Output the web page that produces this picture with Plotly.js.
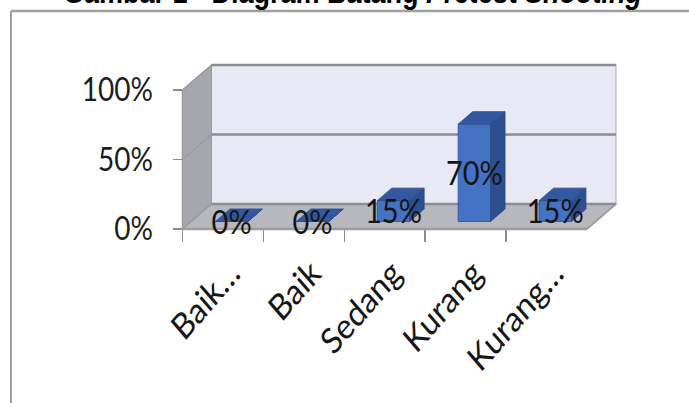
<!DOCTYPE html>
<html><head><meta charset="utf-8">
<script src="https://cdn.plot.ly/plotly-3.0.1.min.js"></script>
<style>
html,body{margin:0;padding:0;background:#fff;overflow:hidden;}
#wrap{width:689px;height:403px;overflow:hidden;position:relative;}
#chart{width:689px;height:350px;transform:scaleY(1.1514286);transform-origin:0 0;}
</style></head><body>
<div id="wrap"><div id="chart"></div></div>
<script>
// ---- data ----
const categories = ['Baik\u2026', 'Baik', 'Sedang', 'Kurang', 'Kurang\u2026'];
const values = [0, 0, 0.15, 0.70, 0.15];
const tickValues = [0, 0.5, 1];
const tickLabels = ['0%', '50%', '100%'];
const titleText = '<b>Gambar 1 - Diagram Batang <i>Pretest Shooting</i></b>';

// ---- geometry constants (reference pixels) ----
const W = 689, H_REF = 403, H_PLOT = 350, K = H_REF / H_PLOT;
const FRONT_L = 182.5, CAT_W = 80.9, Y0 = 229, UNIT = 139;
const DEPTH_X = 29, DEPTH_Y = 25;
const DX = DEPTH_X / CAT_W, DY = DEPTH_Y / UNIT;
const BAR_W = 0.4, BAR_F = 0.3, BAR_D = 0.5;
const LABEL_SHIFT = -4 / UNIT;
const FONT = 'Lato, "Open Sans", sans-serif';

const n = categories.length;
const idx = categories.map((_, i) => i);
const L = -0.5, R = n - 0.5;

const px = p => p / W;
const py = r => 1 - r / H_REF;
const poly = pts => 'M' + pts.map(p => p[0] + ',' + p[1]).join('L') + 'Z';
const seg = (a, b) => 'M' + a[0] + ',' + a[1] + 'L' + b[0] + ',' + b[1];

// ---- walls, floor, gridlines (shapes below traces) ----
const shapes = [];
const GS = {xref: 'x2', yref: 'y2', layer: 'below', type: 'path'};
shapes.push(Object.assign({}, GS, {path: poly([[L + DX, DY], [R + DX, DY], [R + DX, 1 + DY], [L + DX, 1 + DY]]),
  fillcolor: '#e8e9f5', line: {color: '#a9a9ae', width: 1}}));
shapes.push(Object.assign({}, GS, {path: poly([[L, 0], [L, 1], [L + DX, 1 + DY], [L + DX, DY]]),
  fillcolor: '#a6a7ad', line: {color: '#9a9aa0', width: 1}}));
shapes.push(Object.assign({}, GS, {path: poly([[L, 0], [R, 0], [R + DX, DY], [L + DX, DY]]),
  fillcolor: '#b6b8bd', line: {color: '#a3a4a8', width: 1}}));
tickValues.forEach(v => {
  shapes.push(Object.assign({}, GS, {path: seg([L + DX, v + DY], [R + DX, v + DY]), line: {color: '#8d8d8f', width: 2}}));
  shapes.push(Object.assign({}, GS, {path: seg([L, v], [L + DX, v + DY]), line: {color: '#98989e', width: 1}}));
});
shapes.push(Object.assign({}, GS, {path: seg([L, 0], [R, 0]), line: {color: '#9c9c9c', width: 2}}));
shapes.push(Object.assign({}, GS, {path: seg([L, 0], [L, 1]), line: {color: '#9c9c9c', width: 1.5}}));
shapes.push(Object.assign({}, GS, {path: seg([R, 0], [R + DX, DY]), line: {color: '#9c9c9c', width: 1.5}}));
// page box border
shapes.push({type: 'line', xref: 'paper', yref: 'paper', x0: px(11), x1: px(11), y0: -0.05, y1: py(11), line: {color: '#a0a0a0', width: 2}});
shapes.push({type: 'line', xref: 'paper', yref: 'paper', x0: px(11), x1: 1.05, y0: py(11), y1: py(11), line: {color: '#a0a0a0', width: 2}});

// ---- bars ----
const bx0 = idx.map(i => i + BAR_F * DX - BAR_W / 2);
const bx1 = bx0.map(x => x + BAR_W);
const yb = BAR_F * DY;
const bdx = BAR_D * DX, bdy = BAR_D * DY;
const sideX = [], sideY = [], topX = [], topY = [];
idx.forEach(i => {
  const yt = yb + values[i];
  sideX.push(bx1[i], bx1[i], bx1[i] + bdx, bx1[i] + bdx, bx1[i], null);
  sideY.push(yb, yt, yt + bdy, yb + bdy, yb, null);
  topX.push(bx0[i], bx1[i], bx1[i] + bdx, bx0[i] + bdx, bx0[i], null);
  topY.push(yt, yt, yt + bdy, yt + bdy, yt, null);
});

const traces = [
  // invisible carrier trace so the front (category) axes get drawn
  {type: 'scatter', mode: 'markers', xaxis: 'x', yaxis: 'y', x: categories, y: values,
   marker: {opacity: 0, size: 1}, hoverinfo: 'skip'},
  {type: 'bar', xaxis: 'x2', yaxis: 'y2', x: idx.map(i => i + BAR_F * DX), y: values, base: yb, width: BAR_W,
   marker: {color: '#4472c4', line: {color: '#30569a', width: 0.8}}, hoverinfo: 'skip'},
  {type: 'scatter', mode: 'lines', xaxis: 'x2', yaxis: 'y2', x: sideX, y: sideY, fill: 'toself',
   fillcolor: '#2d4f8f', line: {color: '#2a4a86', width: 0.8}, hoverinfo: 'skip'},
  {type: 'scatter', mode: 'lines', xaxis: 'x2', yaxis: 'y2', x: topX, y: topY, fill: 'toself',
   fillcolor: '#3358a0', line: {color: '#2c4d8c', width: 0.8}, hoverinfo: 'skip'},
  {type: 'scatter', mode: 'text', xaxis: 'x2', yaxis: 'y2', x: idx.map(i => i + BAR_F * DX),
   y: values.map(v => yb + v / 2 + LABEL_SHIFT), text: values.map(v => Math.round(v * 100) + '%'),
   textposition: 'middle center', textfont: {family: FONT, size: 29, color: '#141414'}, cliponaxis: false, hoverinfo: 'skip'}
];

const layout = {
  width: W, height: H_PLOT,
  margin: {l: 0, r: 0, t: 0, b: 0, pad: 0},
  paper_bgcolor: '#ffffff', plot_bgcolor: 'rgba(0,0,0,0)',
  showlegend: false, hovermode: false,
  font: {family: FONT, color: '#222222'},
  xaxis: {domain: [px(FRONT_L), px(FRONT_L + n * CAT_W)], range: [L, R], anchor: 'y',
    type: 'category', categoryorder: 'array', categoryarray: categories, tickson: 'boundaries',
    ticks: 'outside', ticklen: 12 / K, tickwidth: 1.5, tickcolor: '#8c8c8c', tickangle: -45,
    ticklabelstandoff: 13, ticklabelshift: 8,
    tickfont: {family: FONT, size: 31, color: '#161616'},
    showgrid: false, zeroline: false, showline: false, fixedrange: true},
  yaxis: {domain: [py(Y0), py(Y0 - UNIT)], range: [0, 1], anchor: 'x',
    tickmode: 'array', tickvals: tickValues, ticktext: tickLabels,
    ticks: 'outside', ticklen: 9, tickwidth: 1.5, tickcolor: '#8c8c8c', ticklabelstandoff: 14,
    tickfont: {family: FONT, size: 28, color: '#1c1c1c'},
    showgrid: false, zeroline: false, showline: false, fixedrange: true},
  xaxis2: {domain: [0, 1], range: [L - FRONT_L / CAT_W, L + (W - FRONT_L) / CAT_W], anchor: 'y2', visible: false, fixedrange: true},
  yaxis2: {domain: [0, 1], range: [(Y0 - H_REF) / UNIT, Y0 / UNIT], anchor: 'x2', visible: false, fixedrange: true},
  shapes: shapes,
  annotations: [{xref: 'paper', yref: 'paper', x: px(353), y: py(13), xanchor: 'center', yanchor: 'bottom',
    text: titleText, showarrow: false, font: {family: '"Liberation Sans", Arial, sans-serif', size: 27, color: '#000000'}}]
};

Plotly.newPlot('chart', traces, layout, {staticPlot: true, displayModeBar: false});
</script>
</body></html>
